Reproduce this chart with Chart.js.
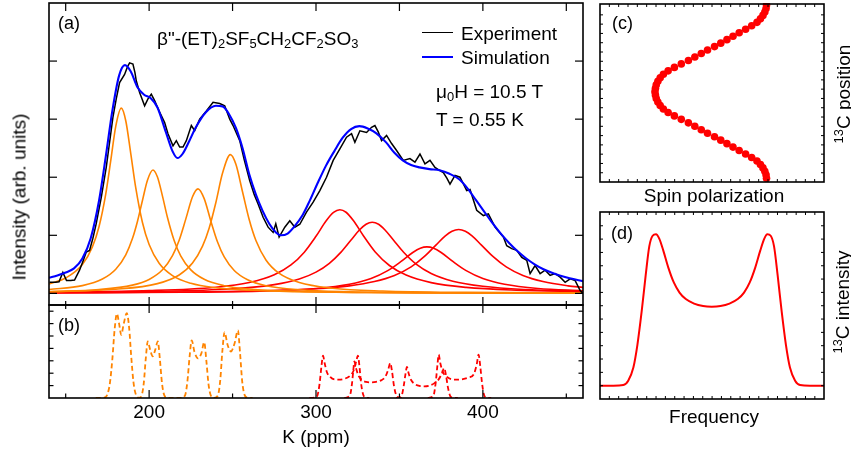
<!DOCTYPE html>
<html><head><meta charset="utf-8">
<script src="https://cdn.jsdelivr.net/npm/chart.js@4.4.1/dist/chart.umd.min.js"></script>
<style>
html,body{margin:0;padding:0;background:#fff;}
#wrap{position:relative;width:851px;height:450px;overflow:hidden;font-family:"Liberation Sans",Arial,sans-serif;color:#000;}
canvas{position:absolute;left:0;top:0;}
.t{position:absolute;white-space:nowrap;font-size:19px;line-height:1;}
.l{transform:translate(0,-50%);}
.c{transform:translate(-50%,-50%);}
.r{transform:translate(-50%,-50%) rotate(-90deg);}
.t sub{font-size:0.68em;vertical-align:-0.3em;line-height:0;}
.t sup{font-size:0.68em;vertical-align:0.5em;line-height:0;}
.lg{position:absolute;height:0;}
</style></head><body>
<div id="wrap">
<canvas id="ca" width="851" height="450"></canvas>
<canvas id="cb" width="851" height="450"></canvas>
<canvas id="cc" width="851" height="450"></canvas>
<canvas id="cd" width="851" height="450"></canvas>

<div class="t l" style="left:58px;top:23px;font-size:18px">(a)</div>
<div class="t l" style="left:157px;top:38px">β"-(ET)<sub>2</sub>SF<sub>5</sub>CH<sub>2</sub>CF<sub>2</sub>SO<sub>3</sub></div>
<div class="lg" style="left:422px;top:32px;width:31px;border-top:1.5px solid #000"></div>
<div class="lg" style="left:422px;top:56px;width:31px;border-top:2px solid #0000ff"></div>
<div class="t l" style="left:461px;top:33px">Experiment</div>
<div class="t l" style="left:461px;top:57px">Simulation</div>
<div class="t l" style="left:436px;top:91px">μ<sub>0</sub>H = 10.5 T</div>
<div class="t l" style="left:436px;top:119px">T = 0.55 K</div>
<div class="t l" style="left:58px;top:325px;font-size:18px">(b)</div>
<div class="t r" style="left:19px;top:197px">Intensity (arb. units)</div>
<div class="t c" style="left:316px;top:436px">K (ppm)</div>
<div class="t l" style="left:612px;top:23px;font-size:18px">(c)</div>
<div class="t c" style="left:714px;top:195px">Spin polarization</div>
<div class="t r" style="left:843px;top:94px"><sup>13</sup>C position</div>
<div class="t l" style="left:611px;top:233px;font-size:18px">(d)</div>
<div class="t c" style="left:714px;top:416px">Frequency</div>
<div class="t r" style="left:842px;top:302px"><sup>13</sup>C intensity</div>
</div>
<script>
// ---------- Panel (a): K (ppm) vs intensity ----------
const experiment = [[140.3,0.19],[143.9,0.19],[146,0.2],[148.3,0.36],[150.5,0.22],[153,0.22],[155.3,0.23],[158.3,0.4],[160.3,0.55],[162.3,0.71],[164.3,0.74],[166.3,0.95],[168.3,1.2],[171.3,1.65],[174.3,2.17],[176.3,2.6],[178.3,3.03],[180.3,3.35],[182.3,3.63],[185.3,3.77],[187,3.9],[188.3,3.97],[190.3,3.95],[191.5,3.8],[192.3,3.66],[194.3,3.46],[197.3,3.23],[199.3,3.35],[201.3,3.43],[203.3,3.32],[206.3,3.12],[209.3,2.94],[211.3,2.75],[214.3,2.54],[216.3,2.63],[218.3,2.52],[220.3,2.52],[222.3,2.63],[225.3,2.89],[227.3,2.8],[230.3,3.0],[234.3,3.14],[238.3,3.29],[242.3,3.27],[245.3,3.23],[248.3,3.0],[250.3,2.89],[254.3,2.63],[257,2.3],[260.3,1.94],[263,1.7],[265.3,1.54],[268.3,1.31],[271.3,1.14],[274.3,1.05],[275.9,1.2],[277.9,0.97],[281.3,1.14],[284.3,1.25],[287.3,1.14],[290.3,1.19],[294.3,1.4],[298.3,1.57],[302.3,1.77],[306.3,2.0],[310.3,2.29],[314.3,2.49],[318.3,2.69],[321.3,2.75],[323.3,2.6],[326.3,2.8],[330.3,2.77],[333.3,2.86],[335.3,2.89],[337.3,2.78],[339.3,2.63],[342.3,2.72],[345.3,2.58],[348.3,2.46],[352.3,2.29],[356.3,2.32],[359.3,2.26],[362.3,2.4],[365.3,2.23],[368.3,2.29],[371.3,2.17],[374,2.12],[376.3,2.08],[378.5,1.98],[380.3,1.88],[383.3,2.03],[386.3,2.0],[390.3,1.77],[392.3,1.79],[396.3,1.43],[400.3,1.34],[403.3,1.37],[407.3,1.14],[410,1.05],[412.3,0.97],[414.3,0.82],[417.3,0.77],[420.3,0.74],[423.3,0.62],[426.3,0.57],[428.3,0.34],[431.3,0.48],[434.3,0.34],[437.3,0.4],[440.3,0.31],[443.3,0.34],[446.3,0.28],[449.3,0.19],[452.3,0.25],[455.3,0.22],[458.3,0.05],[460,0.0]];
const simulation = [[140,0.27],[145,0.31],[150,0.36],[155,0.43],[160,0.6],[165,0.95],[170,1.6],[174,2.35],[178,3.15],[182,3.75],[185.5,3.93],[189,3.82],[193,3.55],[197,3.42],[201,3.36],[205,3.2],[210,2.78],[214,2.45],[217,2.33],[220,2.4],[224,2.62],[228,2.86],[234,3.12],[240,3.23],[244,3.22],[248,3.08],[252,2.85],[256,2.5],[260,2.05],[264,1.7],[268,1.42],[272,1.2],[276,1.05],[279,1.0],[283,1.03],[287,1.15],[292,1.35],[296,1.58],[301,1.9],[306,2.2],[311,2.45],[316,2.68],[321,2.83],[326,2.88],[331,2.84],[336,2.76],[342,2.6],[347,2.42],[352,2.29],[357,2.21],[362,2.17],[368,2.14],[374,2.12],[380,2.06],[386,1.96],[391,1.8],[396,1.6],[401,1.4],[406,1.2],[411,1.02],[416,0.86],[421,0.72],[426,0.6],[431,0.5],[436,0.42],[441,0.36],[446,0.31],[452,0.26],[460,0.21]];
const orange1 = [[140,0.161],[150,0.264],[160,0.496],[166,0.80],[170,1.152],[174,1.71],[177,2.284],[180,2.877],[183.3,3.19],[186,2.973],[189,2.408],[192,1.816],[196,1.221],[200,0.842],[206,0.519],[214,0.306],[225,0.173],[240,0.096],[260,0.053],[290,0.028],[330,0.015],[380,0.008],[460,0.004]];
const orange2 = [[140,0.064],[160,0.134],[172,0.247],[180,0.416],[186,0.665],[190,0.944],[193,1.239],[196,1.6],[199,1.949],[202.3,2.125],[205,2.004],[208,1.675],[211,1.307],[215,0.911],[219,0.643],[225,0.404],[233,0.242],[245,0.132],[260,0.075],[290,0.033],[330,0.016],[380,0.008],[460,0.004]];
const orange3 = [[140,0.029],[170,0.065],[190,0.142],[200,0.24],[208,0.406],[214,0.65],[218,0.916],[222,1.283],[226,1.663],[229.3,1.8],[233,1.631],[237,1.243],[241,0.885],[245,0.628],[251,0.395],[259,0.235],[270,0.133],[290,0.062],[320,0.028],[370,0.012],[460,0.004]];
const orange4 = [[140,0.029],[180,0.071],[205,0.168],[218,0.317],[226,0.522],[232,0.814],[236,1.127],[240,1.566],[244,2.072],[248.7,2.39],[252,2.222],[256,1.745],[260,1.267],[264,0.91],[270,0.576],[278,0.343],[290,0.186],[310,0.088],[340,0.041],[390,0.017],[460,0.008]];
const red1 = [[140,0.021],[200,0.047],[240,0.106],[260,0.187],[275,0.32],[285,0.489],[293,0.71],[300,0.983],[306,1.246],[310.5,1.394],[314.3,1.44],[318,1.397],[322.5,1.249],[328.5,0.988],[335.5,0.713],[344,0.48],[354,0.315],[369,0.185],[390,0.103],[420,0.055],[460,0.029]];
const red2 = [[140,0.016],[200,0.032],[250,0.079],[275,0.151],[290,0.248],[300,0.366],[308,0.518],[315,0.711],[321,0.919],[326,1.091],[330,1.191],[333.7,1.225],[337.5,1.19],[341.5,1.088],[346.5,0.915],[352.5,0.708],[360,0.504],[369,0.343],[382,0.21],[400,0.122],[425,0.067],[460,0.036]];
const red3 = [[140,0.008],[220,0.019],[270,0.043],[300,0.085],[320,0.157],[333,0.256],[343,0.391],[351,0.55],[358,0.704],[362.5,0.777],[366.5,0.8],[370.5,0.777],[375,0.704],[382,0.55],[390,0.391],[400,0.256],[413,0.157],[433,0.085],[460,0.046]];
const red4 = [[140,0.01],[220,0.023],[270,0.046],[300,0.08],[320,0.13],[335,0.203],[347,0.308],[357,0.456],[365,0.636],[372,0.836],[377.5,0.99],[381.5,1.07],[385.5,1.1],[389.5,1.07],[393.5,0.99],[399,0.836],[406,0.636],[414,0.456],[424,0.308],[436,0.203],[451,0.13],[460,0.103]];

// ---------- Panel (b): simulated line patterns ----------
const orangeB = [[168,0],[173,0.02],[175,0.3],[176.5,1.2],[178,3.2],[179.3,5.5],[180.7,6.8],[182,6.0],[183.3,5.1],[184.8,6.0],[186.6,6.85],[188,5.7],[189.3,3.3],[190.6,1.3],[192,0.3],[194,0.02],[195.5,0.2],[196.8,1.2],[198,3.2],[199.2,4.57],[200.6,3.9],[202.1,3.36],[203.7,3.9],[205.2,4.57],[206.4,3.2],[207.7,1.2],[209,0.25],[211,0.02],[214,0],[219,0],[221.5,0.2],[222.9,1.3],[224.3,3.4],[225.5,4.65],[227.2,3.7],[229.3,3.2],[231.3,3.6],[233,4.5],[234.3,3.0],[235.6,1.1],[237,0.2],[239,0.01],[241.2,0.2],[242.6,1.4],[243.9,3.8],[245.2,5.3],[247,4.3],[249,3.75],[251.2,4.4],[253.2,5.45],[254.5,3.6],[255.8,1.3],[257.2,0.25],[259,0.02],[262,0]];
const redB1 = [[296,0],[300.5,0.1],[302,1.0],[303.3,2.6],[304.2,3.41],[305.2,2.8],[306.5,2.1],[308.5,1.7],[311,1.5],[314,1.48],[317,1.55],[320,1.75],[322.5,2.2],[324.2,3.0],[325.1,3.41],[326,2.6],[327,1.2],[328.2,0.3],[330,0.02],[332,0]];
const redB2 = [[317,0],[320.3,0.2],[321.6,1.2],[322.4,2.3],[323,2.96],[324,2.4],[325.5,1.8],[327.5,1.45],[330,1.3],[333,1.26],[336,1.3],[339,1.42],[341.5,1.7],[343.3,2.3],[344.5,2.82],[345.5,2.2],[346.7,1.0],[348,0.25],[350,0.02],[352,0]];
const redB3 = [[348,0],[351.2,0.15],[352.6,1.0],[353.7,2.0],[354.5,2.5],[355.5,2.0],[357,1.45],[359.5,1.1],[362,0.97],[365,0.94],[368,1.0],[371,1.2],[373.5,1.5],[375.5,2.0],[376.8,2.42],[377.8,1.9],[379,0.9],[380.3,0.2],[382,0.02],[385,0]];
const redB4 = [[367,0],[370.3,0.15],[371.7,1.2],[372.8,2.7],[373.5,3.5],[374.5,2.8],[376,2.1],[378.5,1.7],[381.5,1.5],[384.5,1.48],[388,1.52],[391.5,1.65],[394.5,1.9],[396.3,2.7],[397.4,3.5],[398.4,2.6],[399.5,1.2],[400.6,0.3],[402,0.03],[405,0]];
const kTickLabels = [200, 300, 400];

// ---------- Panel (c): spin polarization vs 13C position ----------
const positionC = [0,1,2,3,4,5,6,7,8,9,10,11,12,13,14,15,16,17,18,19,20,21,22,23,24,25,26,27,28,29,30,31,32,33,34,35,36,37,38,39,40,41,42,43,44,45,46,47,48,49,50];
const polarizationC = [17.84,17.79,17.66,17.46,17.19,16.82,16.25,15.60,14.91,14.25,13.60,12.94,12.27,11.52,10.85,10.16,9.47,8.71,7.97,7.30,6.79,6.45,6.20,6.03,5.94,5.89,5.94,6.03,6.20,6.45,6.79,7.30,7.97,8.71,9.47,10.16,10.85,11.52,12.27,12.94,13.60,14.25,14.91,15.60,16.25,16.82,17.19,17.46,17.66,17.79,17.84];

// ---------- Panel (d): 13C intensity vs frequency ----------
const frequencyD = [0,5.95,10.4,12.6,14.9,16.7,18.6,20.4,22.0,23.5,25.0,26.5,28.3,30.5,33.0,35.5,38.3,42.0,46.0,49.9,53.8,57.8,61.5,64.3,66.8,69.3,71.5,73.3,74.7,76.2,77.7,79.3,81.1,83.0,84.8,87.1,89.3,93.75,100];
const intensityD = [0,0,0.004,0.033,0.12,0.27,0.49,0.73,0.92,0.99,1.0,0.97,0.89,0.78,0.68,0.615,0.572,0.542,0.526,0.522,0.526,0.542,0.572,0.615,0.68,0.78,0.89,0.97,1.0,0.99,0.92,0.73,0.49,0.27,0.12,0.033,0.004,0,0];

// ---------- helpers ----------
const pts = arr => arr.map(p => ({x: p[0], y: p[1]}));
const W = 851, H = 450;
function pad(l, t, r, b) { return {left: l, top: t, right: W - r, bottom: H - b}; }
function range(a, b, s) { const o = []; for (let v = a; v <= b + 1e-9; v += s) o.push(+v.toFixed(4)); return o; }

const framePlugin = {
  id: 'frame',
  afterDatasetsDraw(chart, args, opts) {
    const {ctx, chartArea: a, scales} = chart;
    ctx.save();
    ctx.strokeStyle = '#000';
    ctx.lineCap = 'butt';
    (opts.ticks || []).forEach(t => {
      const sc = scales[t.axis];
      ctx.lineWidth = t.w || 1.2;
      t.values.forEach(v => {
        const p = sc.getPixelForValue(v);
        const out = t.out || 0;
        ctx.beginPath();
        if (t.edge === 'bottom') { ctx.moveTo(p, a.bottom + out); ctx.lineTo(p, a.bottom - t.len); }
        if (t.edge === 'top') { ctx.moveTo(p, a.top - out); ctx.lineTo(p, a.top + t.len); }
        if (t.edge === 'left') { ctx.moveTo(a.left - out, p); ctx.lineTo(a.left + t.len, p); }
        if (t.edge === 'right') { ctx.moveTo(a.right + out, p); ctx.lineTo(a.right - t.len, p); }
        ctx.stroke();
      });
    });
    ctx.lineWidth = opts.lw || 1.6;
    ctx.strokeRect(a.left, a.top, a.right - a.left, a.bottom - a.top);
    (opts.labels || []).forEach(lb => {
      ctx.fillStyle = '#000';
      ctx.font = '19px "Liberation Sans", Arial, sans-serif';
      ctx.textAlign = 'center';
      ctx.textBaseline = 'middle';
      lb.values.forEach(v => ctx.fillText(String(v), scales[lb.axis].getPixelForValue(v), lb.y));
    });
    ctx.restore();
  }
};

function baseOptions(padding, xr, yr, frame) {
  return {
    responsive: false, animation: false, devicePixelRatio: 1,
    layout: {padding},
    plugins: {legend: {display: false}, tooltip: {enabled: false}, frame},
    elements: {point: {radius: 0}},
    scales: {
      x: {type: 'linear', display: false, min: xr[0], max: xr[1]},
      y: {type: 'linear', display: false, min: yr[0], max: yr[1]}
    }
  };
}
function lineDs(data, color, width, dash) {
  return {data: pts(data), borderColor: color, borderWidth: width, borderDash: dash || [],
    pointRadius: 0, fill: false, tension: 0.4, cubicInterpolationMode: 'monotone', parsing: false};
}

const ORANGE = '#ff8400', RED = '#ff0000', BLUE = '#0000ff';

// Panel (a)
const expDs = lineDs(experiment, '#000', 1.5); expDs.tension = 0; expDs.cubicInterpolationMode = 'default';
new Chart(document.getElementById('ca'), {
  type: 'line',
  data: {datasets: [
    lineDs(simulation, BLUE, 2.1),
    expDs,
    lineDs(orange1, ORANGE, 1.6), lineDs(orange2, ORANGE, 1.6), lineDs(orange3, ORANGE, 1.6), lineDs(orange4, ORANGE, 1.6),
    lineDs(red1, RED, 1.6), lineDs(red2, RED, 1.6), lineDs(red3, RED, 1.6), lineDs(red4, RED, 1.6)
  ]},
  options: baseOptions(pad(49, 3, 583, 305), [140, 460], [-0.2, 5.0], {
    ticks: [
      {axis: 'x', edge: 'top', values: [150,200,250,300,350,400,450], len: 8},
      {axis: 'x', edge: 'bottom', values: [200,300,400], len: 8, out: 8},
      {axis: 'x', edge: 'bottom', values: [150,250,350,450], len: 4, out: 4},
      {axis: 'y', edge: 'left', values: [0,1,2,3,4], len: 8},
      {axis: 'y', edge: 'right', values: [0,1,2,3,4], len: 8}
    ]
  }),
  plugins: [framePlugin]
});

// Panel (b)
new Chart(document.getElementById('cb'), {
  type: 'line',
  data: {datasets: [
    lineDs(orangeB, ORANGE, 1.8, [5, 3]),
    lineDs(redB1, RED, 1.8, [5, 3]), lineDs(redB2, RED, 1.8, [5, 3]),
    lineDs(redB3, RED, 1.8, [5, 3]), lineDs(redB4, RED, 1.8, [5, 3])
  ]},
  options: baseOptions(pad(49, 305, 583, 398), [140, 460], [0, 7.5], {
    ticks: [
      {axis: 'x', edge: 'bottom', values: [200,300,400], len: 8},
      {axis: 'x', edge: 'bottom', values: [150,250,350,450], len: 4.5},
      {axis: 'y', edge: 'left', values: [1,2,3,4,5,6,7], len: 4.5},
      {axis: 'y', edge: 'right', values: [1,2,3,4,5,6,7], len: 4.5}
    ],
    labels: [{axis: 'x', values: kTickLabels, y: 413}]
  }),
  plugins: [framePlugin]
});

// Panel (c)
new Chart(document.getElementById('cc'), {
  type: 'scatter',
  data: {datasets: [{
    data: positionC.map((p, i) => ({x: polarizationC[i], y: p})),
    backgroundColor: RED, borderWidth: 0, pointRadius: 3.8, parsing: false, clip: 1
  }]},
  options: baseOptions(pad(600, 4, 824, 182), [0, 24], [-1.07, 50.29], {
    ticks: [
      {axis: 'x', edge: 'bottom', values: range(1, 23, 1), len: 3, w: 1},
      {axis: 'x', edge: 'top', values: range(1, 23, 1), len: 3, w: 1},
      {axis: 'y', edge: 'left', values: range(1.6, 49, 2.68), len: 3, w: 1},
      {axis: 'y', edge: 'right', values: range(1.6, 49, 2.68), len: 3, w: 1}
    ]
  }),
  plugins: [framePlugin]
});

// Panel (d)
new Chart(document.getElementById('cd'), {
  type: 'line',
  data: {datasets: [lineDs(frequencyD.map((f, i) => [f, intensityD[i]]), RED, 2)]},
  options: baseOptions(pad(600, 212, 824, 399), [0, 100], [-0.088, 1.147], {
    ticks: [
      {axis: 'x', edge: 'bottom', values: range(4.17, 96, 4.17), len: 3, w: 1},
      {axis: 'x', edge: 'top', values: range(4.17, 96, 4.17), len: 3, w: 1},
      {axis: 'y', edge: 'left', values: range(0, 1.1, 0.088), len: 3, w: 1},
      {axis: 'y', edge: 'right', values: range(0, 1.1, 0.088), len: 3, w: 1}
    ]
  }),
  plugins: [framePlugin]
});
</script>
</body></html>
